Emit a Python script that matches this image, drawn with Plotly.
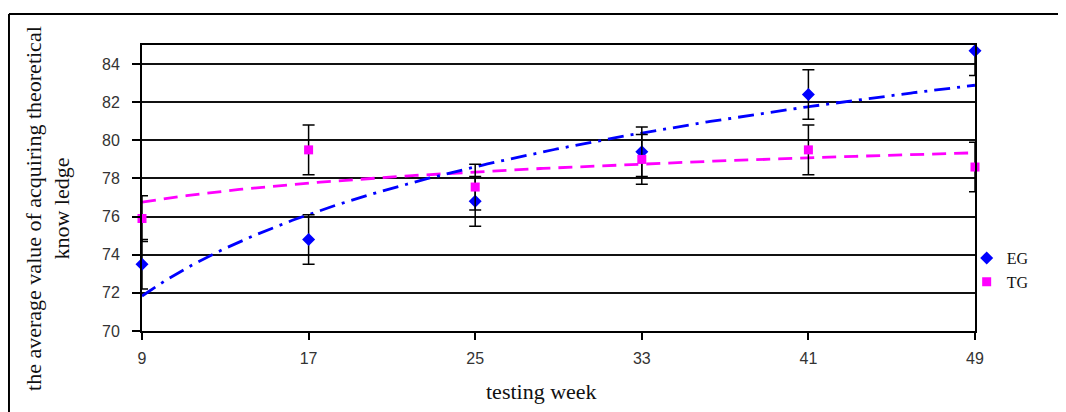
import numpy as np
import plotly.graph_objects as go

weeks = [9, 17, 25, 33, 41, 49]
eg_values = [73.5, 74.8, 76.8, 79.4, 82.4, 84.7]
tg_values = [75.9, 79.5, 77.55, 79.0, 79.5, 78.6]
eg_errors = [1.3, 1.3, 1.3, 1.3, 1.3, 1.3]
tg_errors = [1.2, 1.3, 1.2, 1.3, 1.3, 1.3]
y_ticks = [70, 72, 74, 76, 78, 80, 82, 84]

# logarithmic trendlines (as in the spreadsheet chart), fitted on category index
idx = np.arange(1, len(weeks) + 1)
def log_fit(vals):
    b, a = np.polyfit(np.log(idx), vals, 1)
    xs = np.linspace(weeks[0], weeks[-1], 300)
    ii = (xs - weeks[0]) / (weeks[1] - weeks[0]) + 1
    return xs, a + b * np.log(ii)

eg_tx, eg_ty = log_fit(eg_values)
tg_tx, tg_ty = log_fit(tg_values)

fig = go.Figure()
fig.add_trace(go.Scatter(x=tg_tx, y=tg_ty, mode="lines", showlegend=False,
                         line=dict(color="#FF00FF", width=2.8, dash="14px,8px"), hoverinfo="skip"))
fig.add_trace(go.Scatter(x=eg_tx, y=eg_ty, mode="lines", showlegend=False,
                         line=dict(color="#0000FF", width=2.8, dash="16px,7px,3px,7px"), hoverinfo="skip"))
fig.add_trace(go.Scatter(x=weeks, y=eg_values, mode="markers", name="EG", cliponaxis=False,
                         marker=dict(symbol="diamond", color="#0000FF", size=10),
                         error_y=dict(type="data", array=eg_errors, color="#000000", thickness=1.5, width=6)))
fig.add_trace(go.Scatter(x=weeks, y=tg_values, mode="markers", name="TG", cliponaxis=False,
                         marker=dict(symbol="square", color="#FF00FF", size=9),
                         error_y=dict(type="data", array=tg_errors, color="#000000", thickness=1.5, width=6)))

tick_font = dict(family="Liberation Sans, Arial, sans-serif", size=16, color="#333333")
serif = "Liberation Serif, Times New Roman, serif"

fig.update_layout(
    width=1066, height=412,
    margin=dict(l=134, r=99, t=37, b=89),
    paper_bgcolor="white", plot_bgcolor="white",
    showlegend=True,
    legend=dict(x=0.99, y=0.213, xanchor="left", yanchor="middle",
                font=dict(family=serif, size=16, color="#111111"),
                bgcolor="rgba(0,0,0,0)", itemwidth=30, tracegroupgap=0),
    xaxis=dict(range=[9, 49], tickvals=weeks, ticktext=[str(w) for w in weeks],
               showgrid=False, zeroline=False, showline=True, linecolor="#000000", linewidth=2,
               mirror=True, ticks="outside", ticklen=7, tickwidth=1.5, tickcolor="#000000",
               tickfont=tick_font, ticklabelstandoff=5),
    yaxis=dict(range=[70, 85], tickvals=y_ticks, ticktext=[str(v) for v in y_ticks],
               showgrid=True, gridcolor="#111111", gridwidth=1.5, zeroline=False,
               showline=True, linecolor="#000000", linewidth=2, mirror=True,
               ticks="outside", ticklen=8, tickwidth=1.5, tickcolor="#000000",
               tickfont=tick_font, ticklabelstandoff=9),
    annotations=[
        dict(text="the average value of acquiring theoretical<br>know ledge",
             xref="paper", yref="paper", x=-0.113, y=0.43, xanchor="center", yanchor="middle",
             textangle=-90, showarrow=False, align="center",
             font=dict(family=serif, size=22, color="#111111")),
        dict(text="testing week", xref="paper", yref="paper", x=0.479, y=-0.213,
             xanchor="center", yanchor="middle", showarrow=False,
             font=dict(family=serif, size=22, color="#111111")),
    ],
    shapes=[
        dict(type="line", xref="paper", yref="paper", x0=-0.1597, x1=1.2, y0=1.1084, y1=1.1084,
             line=dict(color="#000000", width=2)),
        dict(type="line", xref="paper", yref="paper", x0=-0.1597, x1=-0.1597, y0=1.1084, y1=-0.4,
             line=dict(color="#000000", width=2)),
    ],
)

fig.write_html("out.html")
